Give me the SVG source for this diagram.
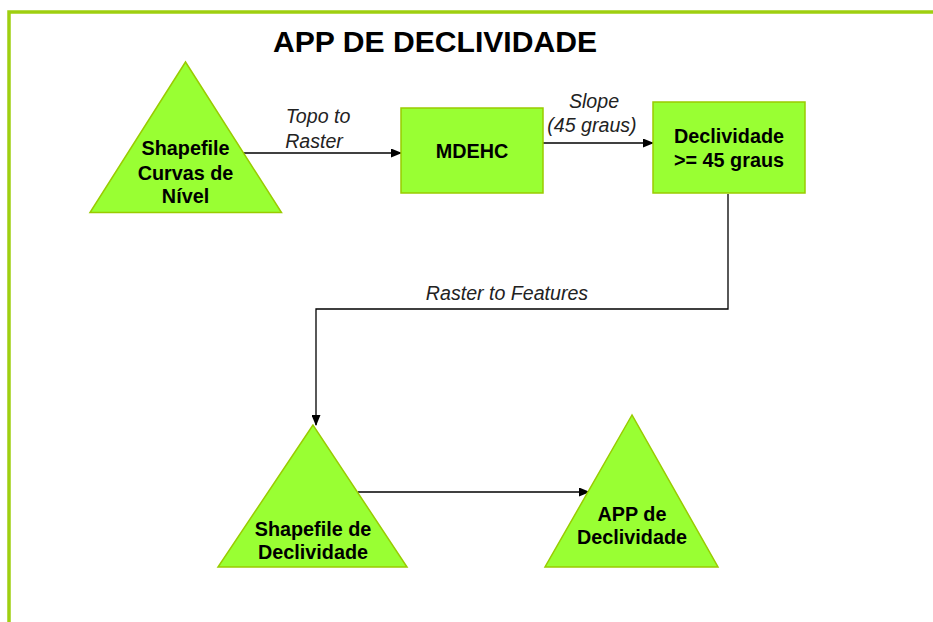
<svg xmlns="http://www.w3.org/2000/svg" width="933" height="622" viewBox="0 0 933 622">
<defs>
<style>
.node{fill:#99ff33;stroke:#99cc00;stroke-width:1.5}
.nt{font-family:"Liberation Sans",Arial,sans-serif;font-weight:bold;font-size:19.8px;fill:#000;text-anchor:middle}
.lbl{font-family:"Liberation Sans",Arial,sans-serif;font-style:italic;font-size:19.6px;fill:#222;text-anchor:middle}
.conn{fill:none;stroke:#000;stroke-width:1.3}
</style>
<marker id="ah" markerWidth="11" markerHeight="9" refX="10" refY="4.5" orient="auto" markerUnits="userSpaceOnUse">
<path d="M0,0 L11,4.5 L0,9 Z" fill="#000"/>
</marker>
</defs>
<rect width="933" height="622" fill="#fff"/>
<path d="M9 622 V12 H933" fill="none" stroke="#9fcf10" stroke-width="3.5"/>
<text x="435" y="52" font-family="'Liberation Sans',Arial,sans-serif" font-weight="bold" font-size="29" text-anchor="middle" textLength="324" lengthAdjust="spacingAndGlyphs">APP DE DECLIVIDADE</text>
<g id="connectors">
<path class="conn" d="M241 153 H401" marker-end="url(#ah)"/>
<path class="conn" d="M543 143 H653" marker-end="url(#ah)"/>
<path class="conn" d="M728 194 V309 H316 V425" marker-end="url(#ah)"/>
<path class="conn" d="M358 492 H589" marker-end="url(#ah)"/>
<text class="lbl" x="318" y="123">Topo to</text>
<text class="lbl" x="314" y="148">Raster</text>
<text class="lbl" x="594" y="108">Slope</text>
<text class="lbl" x="592" y="132">(45 graus)</text>
<text class="lbl" x="507" y="300">Raster to Features</text>
</g>
<g id="shapefile-curvas">
<polygon class="node" points="185.5,62 90,212.5 281.5,212.5"/>
<text class="nt" x="185.5" y="155">Shapefile</text>
<text class="nt" x="185.5" y="180">Curvas de</text>
<text class="nt" x="185.5" y="203">Nível</text>
</g>
<g id="mdehc">
<rect class="node" x="401" y="108" width="142" height="85"/>
<text class="nt" x="472" y="158">MDEHC</text>
</g>
<g id="declividade">
<rect class="node" x="653" y="102" width="152" height="91"/>
<text class="nt" x="729" y="143">Declividade</text>
<text class="nt" x="729" y="167">&gt;= 45 graus</text>
</g>
<g id="shapefile-declividade">
<polygon class="node" points="313,425 218,567 407,567"/>
<text class="nt" x="313" y="536">Shapefile de</text>
<text class="nt" x="313" y="559">Declividade</text>
</g>
<g id="app-declividade">
<polygon class="node" points="632,415 545,567 718,567"/>
<text class="nt" x="632" y="521">APP de</text>
<text class="nt" x="632" y="544">Declividade</text>
</g>
</svg>
